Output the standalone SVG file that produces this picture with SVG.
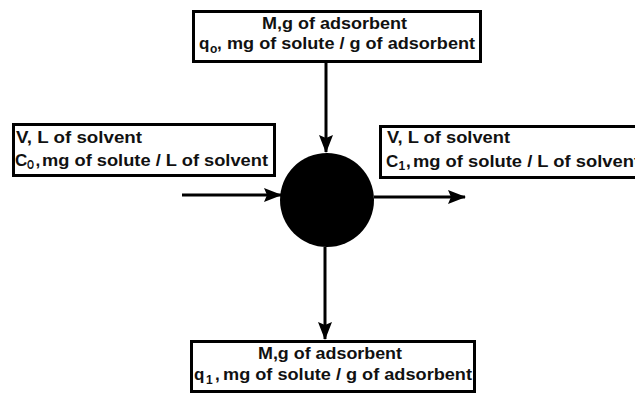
<svg xmlns="http://www.w3.org/2000/svg" width="635" height="394" viewBox="0 0 635 394">
<style>
.box{fill:#fff;stroke:#000;stroke-width:3}
.t{font-family:"Liberation Sans",Arial,sans-serif;font-weight:bold;font-size:17px;fill:#111}
.s{font-size:12px}
.c{stroke:#000;stroke-width:3;fill:none}
</style>
<defs>
<marker id="ah" markerUnits="userSpaceOnUse" markerWidth="18" markerHeight="14" refX="17" refY="7" orient="auto">
<path d="M0,0 L18,7 L0,14 L3,7 Z" fill="#000"/>
</marker>
</defs>
<rect width="635" height="394" fill="#fff"/>
<g id="top">
<rect class="box" x="193.5" y="11.5" width="287" height="50"/>
<text class="t" x="262" y="29" textLength="145" lengthAdjust="spacingAndGlyphs">M,g of adsorbent</text>
<text class="t" x="199" y="49">q</text>
<text class="t s" x="210" y="53">o</text>
<text class="t" x="217" y="49">,</text>
<text class="t" x="227" y="49" textLength="248" lengthAdjust="spacingAndGlyphs">mg of solute / g of adsorbent</text>
</g>
<g id="left">
<rect class="box" x="13.5" y="124.5" width="261" height="51"/>
<text class="t" x="16" y="143" textLength="126" lengthAdjust="spacingAndGlyphs">V, L of solvent</text>
<text class="t" x="15" y="166">C</text>
<text class="t s" x="27" y="169" textLength="7" lengthAdjust="spacingAndGlyphs">O</text>
<text class="t" x="35.5" y="166">,</text>
<text class="t" x="42" y="166" textLength="226" lengthAdjust="spacingAndGlyphs">mg of solute / L of solvent</text>
</g>
<g id="right">
<rect class="box" x="380.5" y="126.5" width="270" height="51"/>
<text class="t" x="387" y="143" textLength="123" lengthAdjust="spacingAndGlyphs">V, L of solvent</text>
<text class="t" x="386" y="167">C</text>
<text class="t s" x="398.5" y="170">1</text>
<text class="t" x="406" y="167">,</text>
<text class="t" x="413" y="167" textLength="227" lengthAdjust="spacingAndGlyphs">mg of solute / L of solvent</text>
</g>
<g id="bottom">
<rect class="box" x="191.5" y="341.5" width="283" height="50"/>
<text class="t" x="258" y="359" textLength="144" lengthAdjust="spacingAndGlyphs">M,g of adsorbent</text>
<text class="t" x="194" y="380">q</text>
<text class="t s" x="206" y="384">1</text>
<text class="t" x="215" y="380">,</text>
<text class="t" x="223" y="380" textLength="249" lengthAdjust="spacingAndGlyphs">mg of solute / g of adsorbent</text>
</g>
<g id="adsorber">
<circle cx="327" cy="200" r="47" fill="#000"/>
</g>
<g id="connectors">
<line class="c" x1="326" y1="63" x2="326" y2="152" marker-end="url(#ah)"/>
<line class="c" x1="325" y1="247" x2="325" y2="339" marker-end="url(#ah)"/>
<line class="c" x1="182" y1="195" x2="281" y2="195" marker-end="url(#ah)"/>
<line class="c" x1="374" y1="197" x2="465" y2="197" marker-end="url(#ah)"/>
</g>
</svg>
